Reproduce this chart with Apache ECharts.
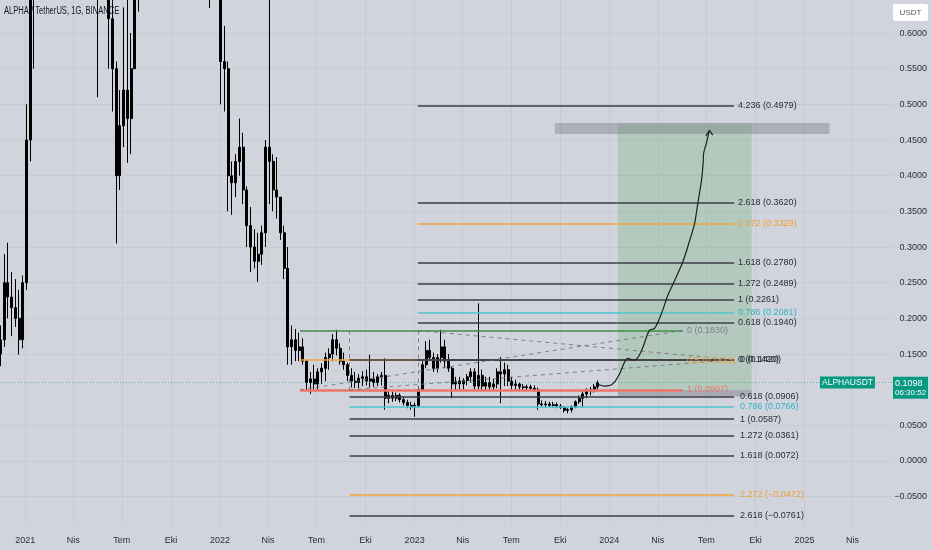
<!DOCTYPE html>
<html><head><meta charset="utf-8">
<script src="https://cdn.jsdelivr.net/npm/echarts@6/dist/echarts.min.js"></script>
<style>html,body{margin:0;padding:0;background:#d1d4dc}#c{width:932px;height:550px}</style>
</head><body><div id="c"></div>
<script>
// ---------- DATA ----------
const candleStart = '2020-11-15T12:00:00'; // weekly candles, one per 7 days
const candleOpen = [0.15,0.17,0.25,0.23,0.215,0.20,0.17,0.25,0.45,0.72,1.05,1.20,1.80,2.20,1.90,1.40,1.50,1.60,1.40,1.20,1.70,2.00,1.90,1.50,1.80,1.70,1.30,0.85,0.90,0.80,0.62,0.55,0.40,0.47,0.52,0.48,0.55,0.70,0.85,0.95,0.90,0.85,1.00,0.95,0.80,0.85,0.80,0.78,0.85,0.90,0.88,0.85,1.00,0.95,0.85,0.78,0.72,0.70,0.74,0.70,0.56,0.55,0.40,0.39,0.42,0.44,0.38,0.33,0.30,0.28,0.29,0.32,0.44,0.42,0.38,0.37,0.32,0.27,0.16,0.17,0.155,0.16,0.14,0.11,0.115,0.108,0.125,0.13,0.145,0.15,0.17,0.158,0.14,0.135,0.12,0.112,0.11,0.116,0.118,0.112,0.115,0.11,0.118,0.12,0.088,0.092,0.088,0.092,0.086,0.082,0.078,0.076,0.078,0.10,0.135,0.155,0.145,0.13,0.145,0.16,0.14,0.13,0.108,0.112,0.108,0.113,0.118,0.125,0.105,0.12,0.105,0.11,0.104,0.108,0.125,0.122,0.128,0.112,0.106,0.108,0.104,0.103,0.104,0.102,0.10,0.08,0.079,0.08,0.078,0.079,0.077,0.075,0.071,0.072,0.076,0.083,0.088,0.094,0.098,0.10,0.104];
const candleHigh = [0.19,0.29,0.306,0.265,0.255,0.24,0.26,0.50,0.80,1.15,1.30,1.90,2.90,2.50,2.00,1.70,1.80,1.70,1.50,1.80,2.20,2.30,2.00,1.90,2.10,1.80,1.35,1.05,1.00,0.85,0.66,0.56,0.52,0.636,0.66,0.60,0.75,0.90,1.00,1.10,1.00,1.05,1.20,1.00,0.90,0.95,0.85,0.90,0.95,1.00,0.95,1.10,1.20,1.00,0.90,0.85,0.80,0.78,0.80,0.72,0.61,0.56,0.42,0.43,0.48,0.46,0.385,0.356,0.325,0.32,0.33,0.45,0.75,0.43,0.426,0.37,0.33,0.30,0.19,0.185,0.18,0.172,0.142,0.125,0.135,0.13,0.137,0.152,0.158,0.178,0.184,0.165,0.152,0.138,0.13,0.125,0.122,0.126,0.128,0.149,0.125,0.122,0.125,0.144,0.097,0.097,0.096,0.095,0.09,0.086,0.083,0.082,0.105,0.14,0.168,0.17,0.152,0.15,0.184,0.17,0.15,0.132,0.118,0.118,0.116,0.122,0.13,0.13,0.221,0.128,0.118,0.118,0.115,0.13,0.146,0.138,0.135,0.118,0.114,0.11,0.108,0.107,0.107,0.106,0.103,0.085,0.084,0.083,0.083,0.082,0.08,0.077,0.075,0.078,0.085,0.092,0.098,0.102,0.104,0.108,0.113];
const candleLow = [0.133,0.16,0.20,0.175,0.188,0.149,0.158,0.24,0.42,0.55,0.85,1.10,1.70,1.70,1.20,1.20,1.40,1.30,1.10,1.15,1.60,1.70,1.20,1.40,1.60,1.20,0.51,0.70,0.68,0.55,0.49,0.305,0.38,0.44,0.418,0.43,0.55,0.63,0.80,0.85,0.80,0.80,0.90,0.75,0.75,0.78,0.70,0.75,0.80,0.82,0.80,0.83,0.90,0.80,0.72,0.68,0.635,0.66,0.67,0.50,0.49,0.35,0.345,0.37,0.40,0.36,0.30,0.265,0.27,0.251,0.275,0.30,0.36,0.35,0.34,0.31,0.255,0.135,0.135,0.14,0.14,0.135,0.098,0.094,0.10,0.10,0.108,0.112,0.128,0.14,0.148,0.135,0.128,0.112,0.103,0.102,0.102,0.105,0.106,0.103,0.104,0.105,0.106,0.072,0.081,0.083,0.084,0.082,0.078,0.074,0.072,0.062,0.075,0.098,0.13,0.14,0.125,0.124,0.138,0.13,0.125,0.088,0.10,0.10,0.10,0.106,0.11,0.10,0.10,0.10,0.10,0.10,0.10,0.102,0.081,0.105,0.105,0.10,0.10,0.098,0.099,0.099,0.099,0.097,0.072,0.076,0.075,0.075,0.075,0.074,0.073,0.068,0.067,0.068,0.074,0.08,0.075,0.088,0.092,0.096,0.10];
const candleClose = [0.17,0.25,0.23,0.215,0.20,0.17,0.25,0.45,0.72,1.05,1.20,1.80,2.20,1.90,1.40,1.50,1.60,1.40,1.20,1.70,2.00,1.90,1.50,1.80,1.70,1.30,0.85,0.90,0.80,0.62,0.55,0.40,0.47,0.52,0.48,0.55,0.70,0.85,0.95,0.90,0.85,1.00,0.95,0.80,0.85,0.80,0.78,0.85,0.90,0.88,0.85,1.00,0.95,0.85,0.78,0.72,0.70,0.74,0.70,0.56,0.55,0.40,0.39,0.42,0.44,0.38,0.33,0.30,0.28,0.29,0.32,0.44,0.42,0.38,0.37,0.32,0.27,0.16,0.17,0.155,0.16,0.14,0.11,0.115,0.108,0.125,0.13,0.145,0.15,0.17,0.158,0.14,0.135,0.12,0.112,0.11,0.116,0.118,0.112,0.115,0.11,0.118,0.12,0.088,0.092,0.088,0.092,0.086,0.082,0.078,0.076,0.078,0.10,0.135,0.155,0.145,0.13,0.145,0.16,0.14,0.13,0.108,0.112,0.108,0.113,0.118,0.125,0.105,0.12,0.105,0.11,0.104,0.108,0.125,0.122,0.128,0.112,0.106,0.108,0.104,0.103,0.104,0.102,0.10,0.08,0.079,0.08,0.078,0.079,0.077,0.075,0.071,0.072,0.076,0.083,0.088,0.094,0.098,0.10,0.104,0.1098];

const lastPrice = 0.1098;
const lastPriceTimer = '06:30:52';

// x-axis ticks (quarters) and labels
const xTickDates = ['2021-01-01','2021-04-01','2021-07-01','2021-10-01','2022-01-01','2022-04-01','2022-07-01','2022-10-01','2023-01-01','2023-04-01','2023-07-01','2023-10-01','2024-01-01','2024-04-01','2024-07-01','2024-10-01','2025-01-01','2025-04-01'];
const xTickLabels = ['2021','Nis','Tem','Eki','2022','Nis','Tem','Eki','2023','Nis','Tem','Eki','2024','Nis','Tem','Eki','2025','Nis'];
// y-axis tick values
const yTickValues = [-0.05,0,0.05,0.15,0.2,0.25,0.3,0.35,0.4,0.45,0.5,0.55,0.6];

// Fibonacci tool 1 (middle)
const fibMidStart = '2022-05-31', fibMidEnd = '2024-05-18';
const fibMidLevels = ['0','0.5','1'];
const fibMidPrices = [0.1830, 0.1413, 0.0997];
// Fibonacci extension (upper)
const fibUpStart = '2023-01-07', fibUpEnd = '2024-08-22';
const fibUpLevels = ['0','0.618','0.786','1','1.272','1.618','2.272','2.618','4.236'];
const fibUpPrices = [0.1420,0.1940,0.2081,0.2261,0.2489,0.2780,0.3329,0.3620,0.4979];
// Fibonacci extension (lower)
const fibLowStart = '2022-09-01', fibLowEnd = '2024-08-22';
const fibLowLevels = ['0','0.618','0.786','1','1.272','1.618','2.272','2.618'];
const fibLowPrices = [0.1420,0.0906,0.0766,0.0587,0.0361,0.0072,-0.0472,-0.0761];

// dashed trend lines of the fib tools
const trendStartDates = ['2022-05-31','2022-09-01','2023-01-07','2022-09-01','2023-01-07'];
const trendStartPrices = [0.0997,0.1830,0.1830,0.0997,0.1830];
const trendEndDates = ['2024-05-18','2022-09-01','2023-01-07','2024-08-22','2024-08-22'];
const trendEndPrices = [0.1830,0.0997,0.0997,0.1420,0.1420];

// long position box
const posStart = '2024-01-17', posEnd = '2024-09-24';
const posTarget = 0.4739, posEntry = 0.0997, posStop = 0.0906;
// target zone band
const bandStart = '2023-09-21', bandEnd = '2025-02-17';
const bandTop = 0.4739, bandBottom = 0.4584;

// projected path drawing
const pathDates = ['2023-12-10','2023-12-22','2024-01-02','2024-01-11','2024-01-21','2024-01-30','2024-02-05','2024-02-14','2024-02-21','2024-03-02','2024-03-11','2024-03-17','2024-03-26','2024-04-08','2024-04-20','2024-05-03','2024-05-18','2024-05-31','2024-06-09','2024-06-15','2024-06-22','2024-06-25','2024-06-26','2024-07-01','2024-07-06'];
const pathPrices = [0.1079,0.1051,0.1058,0.1108,0.1234,0.1392,0.1440,0.1416,0.1426,0.1556,0.1743,0.1837,0.1860,0.2071,0.2327,0.2538,0.2794,0.3098,0.3332,0.3613,0.3939,0.4174,0.4318,0.4454,0.4617];
const headDates = ['2024-06-30','2024-07-06T19:00:00','2024-07-13'];
const headPrices = [0.4556,0.4636,0.4570];

// ---------- BUILD ----------
const DAY = 86400000;
const t = s => +new Date(s.length === 10 ? s + 'T00:00:00' : s);
const t0 = t(candleStart);
const candles = candleOpen.map((o, i) => [t0 + i * 7 * DAY, o, candleClose[i], candleLow[i], candleHigh[i]]);
const fmtP = p => (p < -1e-9 ? '\u2212' : '') + Math.abs(p).toFixed(4);
const AFONT = "'Liberation Sans', Arial, sans-serif";
const DARK = '#3b3e47', CYAN = '#4ec3cf', ORANGE = '#f4a43a', RED = '#ee7468', GREEN = '#3f9142';
const lvlColor = l => l === '0.786' ? CYAN : (l === '2.272' ? ORANGE : DARK);
const lblColor = l => l === '0.786' ? '#2fb3c4' : (l === '2.272' ? '#f0a030' : '#2a2e39');

function hLine(s, e, p, color, width, text, tColor, dist) {
  return [
    { coord: [t(s), p], lineStyle: { color: color, width: width, type: 'solid' },
      label: { show: true, position: 'end', formatter: text, color: tColor, fontSize: 9, fontFamily: AFONT, distance: dist } },
    { coord: [t(e), p] }
  ];
}
const ml = [];
const midColors = [GREEN, ORANGE, RED], midLbl = ['#7d8089', ORANGE, RED], midW = [1.5, 1.5, 2.5];
fibMidLevels.forEach((l, i) => ml.push(hLine(fibMidStart, fibMidEnd, fibMidPrices[i], midColors[i], midW[i], l + ' (' + fmtP(fibMidPrices[i]) + ')', midLbl[i], 4)));
fibLowLevels.forEach((l, i) => ml.push(hLine(fibLowStart, fibLowEnd, fibLowPrices[i], lvlColor(l), 1.5, l + ' (' + fmtP(fibLowPrices[i]) + ')', lblColor(l), 6)));
fibUpLevels.forEach((l, i) => ml.push(hLine(fibUpStart, fibUpEnd, fibUpPrices[i], lvlColor(l), 1.5, l + ' (' + fmtP(fibUpPrices[i]) + ')', lblColor(l), 4)));
trendStartDates.forEach((s, i) => ml.push([
  { coord: [t(s), trendStartPrices[i]], lineStyle: { color: 'rgba(110,113,125,0.85)', width: 1, type: [4, 4] }, label: { show: false } },
  { coord: [t(trendEndDates[i]), trendEndPrices[i]] }
]));
const tagTok = { backgroundColor: '#089981', color: '#fff', width: 32, align: 'left', fontFamily: AFONT };
ml.push({ yAxis: lastPrice, lineStyle: { color: 'rgba(8,153,129,0.55)', width: 1, type: [1, 2] },
  label: { show: true, position: 'end', distance: 0,
    formatter: '{h| }\n{a|' + fmtP(lastPrice) + '}\n{b|' + lastPriceTimer + '}',
    rich: {
      h: { height: 10.5, lineHeight: 10.5, fontSize: 9 },
      a: Object.assign({ height: 11, lineHeight: 11, padding: [1, 1, 0, 2], fontSize: 9 }, tagTok),
      b: Object.assign({ height: 10, lineHeight: 10, padding: [0, 1, 1, 2], fontSize: 8, color: '#dff3ee' }, tagTok)
    } } });
ml.push({ yAxis: lastPrice, lineStyle: { color: 'rgba(0,0,0,0)', width: 0 },
  label: { show: true, position: 'insideEnd', distance: 18, formatter: 'ALPHAUSDT', backgroundColor: '#089981', color: '#fff', padding: [2, 2, 1, 2], fontSize: 8.5, fontFamily: AFONT } });

const areas = [
  [{ coord: [t(posStart), posTarget], itemStyle: { color: 'rgba(67,160,71,0.2)' } }, { coord: [t(posEnd), posEntry] }],
  [{ coord: [t(posStart), posEntry], itemStyle: { color: 'rgba(110,113,125,0.42)' } }, { coord: [t(posEnd), posStop] }],
  [{ coord: [t(bandStart), bandTop], itemStyle: { color: 'rgba(120,123,134,0.42)' } }, { coord: [t(bandEnd), bandBottom] }]
];

const xTicks = xTickDates.map(t);
const chart = echarts.init(document.getElementById('c'), null, { renderer: 'canvas' });
chart.setOption({
  animation: false,
  backgroundColor: '#d1d4dc',
  grid: { left: 0, right: 39, top: 0, bottom: 26, outerBoundsMode: 'none', containLabel: false },
  xAxis: {
    type: 'value', min: t('2020-11-14T12:00:00'), max: t('2025-06-16'),
    axisLine: { show: false },
    axisTick: { show: false, customValues: xTicks },
    axisLabel: { customValues: xTicks, margin: 12, fontSize: 9, color: '#2a2e39', fontFamily: AFONT,
      formatter: v => { const k = xTicks.indexOf(v); return k >= 0 ? xTickLabels[k] : ''; } },
    splitLine: { show: true, lineStyle: { color: '#c7cad2', width: 1 } }
  },
  yAxis: {
    type: 'value', position: 'right', min: -0.0883, max: 0.6463,
    axisLine: { show: false },
    axisTick: { show: false, customValues: yTickValues },
    axisLabel: { customValues: yTickValues, margin: 34, align: 'right', fontSize: 9, color: '#2a2e39', fontFamily: AFONT, formatter: v => fmtP(v) },
    splitLine: { show: true, lineStyle: { color: '#c7cad2', width: 1 } }
  },
  graphic: [
    { type: 'text', x: 4, y: 6, scaleX: 0.76, z: 100, style: { text: 'ALPHA / TetherUS, 1G, BINANCE', fill: '#131722', font: '10px ' + AFONT } },
    { type: 'rect', shape: { x: 893, y: 4, width: 35, height: 17, r: 2 }, style: { fill: '#ffffff' } },
    { type: 'text', style: { text: 'USDT', x: 910.5, y: 12.5, align: 'center', verticalAlign: 'middle', fill: '#50535e', font: '8px ' + AFONT } }
  ],
  series: [
    {
      type: 'candlestick', data: candles, barWidth: 2.5, clip: true,
      itemStyle: { color: '#000', color0: '#000', borderColor: '#000', borderColor0: '#000', borderWidth: 1 },
      markArea: { silent: true, data: areas },
      markLine: { silent: true, symbol: ['none', 'none'], animation: false, data: ml }
    },
    {
      type: 'line', data: pathDates.map((d, i) => [t(d), pathPrices[i]]), smooth: 0.3, showSymbol: false,
      lineStyle: { color: '#1f1f24', width: 1.2 }, silent: true, z: 5
    },
    {
      type: 'line', data: headDates.map((d, i) => [t(d), headPrices[i]]), showSymbol: false,
      lineStyle: { color: '#1f1f24', width: 1.2 }, silent: true, z: 5
    }
  ]
});
</script></body></html>
